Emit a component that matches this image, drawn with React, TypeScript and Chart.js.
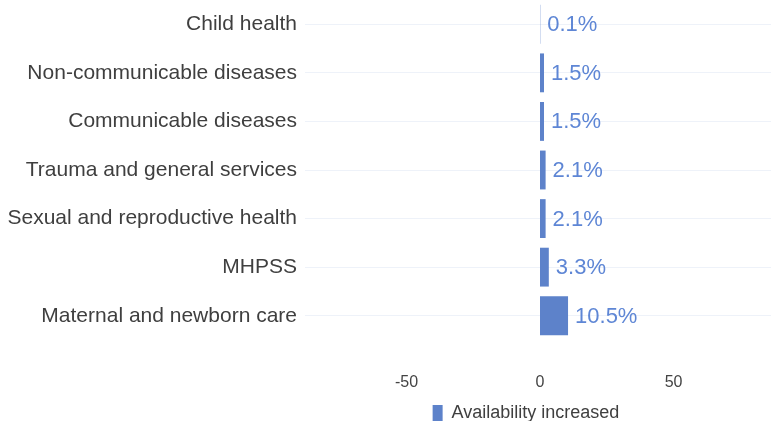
import React, { useEffect, useRef } from "react";
import { Chart, registerables } from "chart.js";

Chart.register(...registerables);

const categories = [
  "Child health",
  "Non-communicable diseases",
  "Communicable diseases",
  "Trauma and general services",
  "Sexual and reproductive health",
  "MHPSS",
  "Maternal and newborn care",
];
const availabilityIncreased = [0.1, 1.5, 1.5, 2.1, 2.1, 3.3, 10.5];
const xTickValues = [-50, 0, 50];
const seriesLabel = "Availability increased";

const barColor = "#5d82ca";
const labelColor = "#5e86d5";
const FONT = "'Liberation Sans', Arial, sans-serif";

const valueLabels = {
  id: "valueLabels",
  afterLayout(chart: any) {
    const lg = chart.legend;
    if (lg) {
      lg.left -= 12;
      lg.right -= 12;
    }
  },
  afterDatasetsDraw(chart: any) {
    const ctx = chart.ctx;
    const meta = chart.getDatasetMeta(0);
    ctx.save();
    ctx.font = "22px " + FONT;
    ctx.fillStyle = labelColor;
    ctx.textAlign = "left";
    ctx.textBaseline = "middle";
    meta.data.forEach((el: any, i: number) => {
      const v = chart.data.datasets[0].data[i];
      ctx.fillText(v.toFixed(1) + "%", el.x + 7, el.y + 1);
    });
    ctx.restore();
  },
};

export default function App() {
  const ref = useRef<HTMLCanvasElement>(null);
  useEffect(() => {
    const chart = new Chart(ref.current!, {
      type: "bar",
      data: {
        labels: categories,
        datasets: [
          {
            label: seriesLabel,
            data: availabilityIncreased,
            backgroundColor: barColor,
            borderWidth: 0,
            barPercentage: 1,
            categoryPercentage: 0.8,
          },
        ],
      },
      options: {
        indexAxis: "y",
        animation: false,
        responsive: true,
        maintainAspectRatio: false,
        layout: { padding: { top: -1, bottom: -11, left: 0, right: 0 } },
        scales: {
          x: {
            min: -88,
            max: 86.5,
            grid: { display: false, drawTicks: false },
            border: { display: false },
            afterBuildTicks: (axis: any) => {
              axis.ticks = xTickValues.map((v) => ({ value: v }));
            },
            afterFit: (axis: any) => {
              axis.height = 64;
              axis.paddingLeft = 0;
              axis.paddingRight = 0;
            },
            ticks: {
              padding: 33,
              color: "#444",
              font: { size: 16, family: FONT },
            },
          },
          y: {
            grid: { display: true, offset: false, color: "#eef2f9", drawTicks: false },
            border: { display: false },
            afterFit: (axis: any) => {
              axis.width = 305;
              axis.paddingTop = 0;
              axis.paddingBottom = 0;
            },
            ticks: {
              padding: 8,
              color: "#3f3f3f",
              font: { size: 21, family: FONT },
            },
          },
        },
        plugins: {
          legend: {
            position: "bottom",
            fullSize: false,
            labels: {
              boxWidth: 10,
              boxHeight: 16,
              color: "#3f3f3f",
              padding: 0,
              font: { size: 18, family: FONT },
            },
          },
          tooltip: { enabled: false },
        },
      },
      plugins: [valueLabels],
    });
    return () => chart.destroy();
  }, []);
  return (
    <div style={{ position: "fixed", left: 0, top: 0, width: 771, height: 421, background: "#fff" }}>
      <canvas ref={ref} />
    </div>
  );
}
